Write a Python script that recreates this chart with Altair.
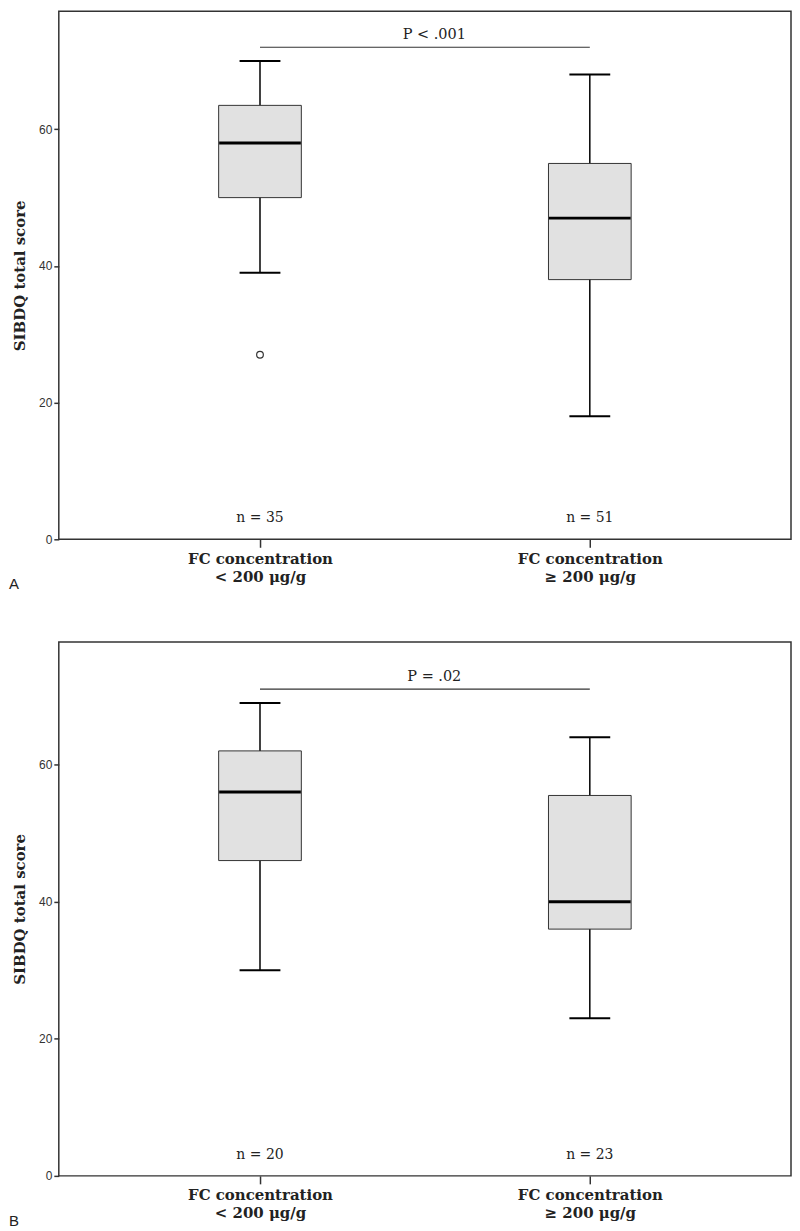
import altair as alt
import pandas as pd

# Categories (| marks a line break in the axis label)
cats = ["FC concentration|< 200 μg/g", "FC concentration|≥ 200 μg/g"]

# Panel A
a_lower = [39, 18]
a_q1 = [50, 38]
a_median = [58, 47]
a_q3 = [63.5, 55]
a_upper = [70, 68]
a_n = ["n = 35", "n = 51"]
a_out_cat = [cats[0]]
a_out_val = [27]
a_p_text = "P < .001"
a_p_y = 72

# Panel B
b_lower = [30, 23]
b_q1 = [46, 36]
b_median = [56, 40]
b_q3 = [62, 55.5]
b_upper = [69, 64]
b_n = ["n = 20", "n = 23"]
b_out_cat = []
b_out_val = []
b_p_text = "P = .02"
b_p_y = 71

yticks = [0, 20, 40, 60]

SERIF = "DejaVu Serif"
SANS = "Liberation Sans"
DARK = "#333333"


def panel(lower, q1, med, q3, upper, ns, out_cat, out_val, p_text, p_y,
          height, ytop, letter):
    df = pd.DataFrame({"cat": cats, "lower": lower, "q1": q1, "median": med,
                       "q3": q3, "upper": upper, "n": ns})
    xscale = alt.Scale(type="point", padding=0.61, domain=cats)
    yscale = alt.Scale(domain=[0, ytop], nice=False, zero=True)
    xaxis = alt.Axis(title=None, labelExpr="split(datum.label, '|')",
                     labelFont=SERIF, labelFontWeight="bold", labelFontSize=15,
                     labelLineHeight=18, labelAngle=0, tickSize=8,
                     tickColor=DARK, tickWidth=1.5, domain=False,
                     labelPadding=4, labelColor="#222222")
    yaxis = alt.Axis(title="SIBDQ total score", titleFont=SERIF,
                     titleFontWeight="bold", titleFontSize=15,
                     titleColor="#222222", values=yticks, tickSize=5,
                     tickColor=DARK, tickWidth=1.5, grid=False, domain=False,
                     labelFont=SANS, labelFontSize=12, labelColor=DARK,
                     labelPadding=2, titlePadding=11)

    base = alt.Chart(df)
    x = alt.X("cat:N", scale=xscale, axis=xaxis, sort=cats)

    whisk = base.mark_rule(color="black", strokeWidth=1.5, opacity=1).encode(
        x=x, y=alt.Y("lower:Q", scale=yscale, axis=yaxis), y2="upper:Q")
    box = base.mark_bar(size=83, color="#e1e1e1", stroke=DARK,
                        strokeWidth=1, opacity=1).encode(
        x=x, y="q1:Q", y2="q3:Q")
    cap_lo = base.mark_tick(size=41, thickness=2, color="black",
                            opacity=1).encode(x=x, y="lower:Q")
    cap_hi = base.mark_tick(size=41, thickness=2, color="black",
                            opacity=1).encode(x=x, y="upper:Q")
    medt = base.mark_tick(size=82, thickness=3, color="black",
                          opacity=1).encode(x=x, y="median:Q")
    ntext = base.mark_text(font=SERIF, fontSize=14, baseline="bottom",
                           dy=-14, color="#222222").encode(
        x=x, y=alt.datum(0), text="n:N")

    pdf = pd.DataFrame({"x1": [cats[0]], "x2": [cats[1]], "y": [p_y],
                        "label": [p_text]})
    prule = alt.Chart(pdf).mark_rule(color=DARK, strokeWidth=1.2,
                                     opacity=1).encode(
        x=alt.X("x1:N", scale=xscale), x2="x2:N", y="y:Q")
    ptext = alt.Chart(pdf).mark_text(font=SERIF, fontSize=14.5, dx=175,
                                     dy=-5, baseline="bottom",
                                     color="#222222").encode(
        x=alt.X("x1:N", scale=xscale), y="y:Q", text="label:N")

    ltext = alt.Chart(pd.DataFrame({"t": [letter]})).mark_text(
        font=SANS, fontSize=15, align="left", baseline="middle",
        color="#222222").encode(x=alt.value(-50), y=alt.value(height + 45),
                               text="t:N")

    layers = [whisk, box, cap_lo, cap_hi, medt, ntext, prule, ptext, ltext]
    if out_cat:
        odf = pd.DataFrame({"cat": out_cat, "val": out_val})
        outl = alt.Chart(odf).mark_point(shape="circle", filled=False,
                                         size=45, color=DARK,
                                         strokeWidth=1.2, opacity=1).encode(
            x=alt.X("cat:N", scale=xscale), y="val:Q")
        layers.append(outl)
    return alt.layer(*layers).properties(width=735, height=height)


pa = panel(a_lower, a_q1, a_median, a_q3, a_upper, a_n, a_out_cat,
           a_out_val, a_p_text, a_p_y, 530, 77.26, "A")
pb = panel(b_lower, b_q1, b_median, b_q3, b_upper, b_n, b_out_cat,
           b_out_val, b_p_text, b_p_y, 536, 77.9, "B")

chart = alt.vconcat(pa, pb, spacing=103, bounds="flush").resolve_scale(
    x="independent", y="independent").properties(
    padding=0, background="white").configure_view(
    stroke=DARK, strokeWidth=1.5)

chart.save("out.html", embed_options={"renderer": "svg", "actions": False})
